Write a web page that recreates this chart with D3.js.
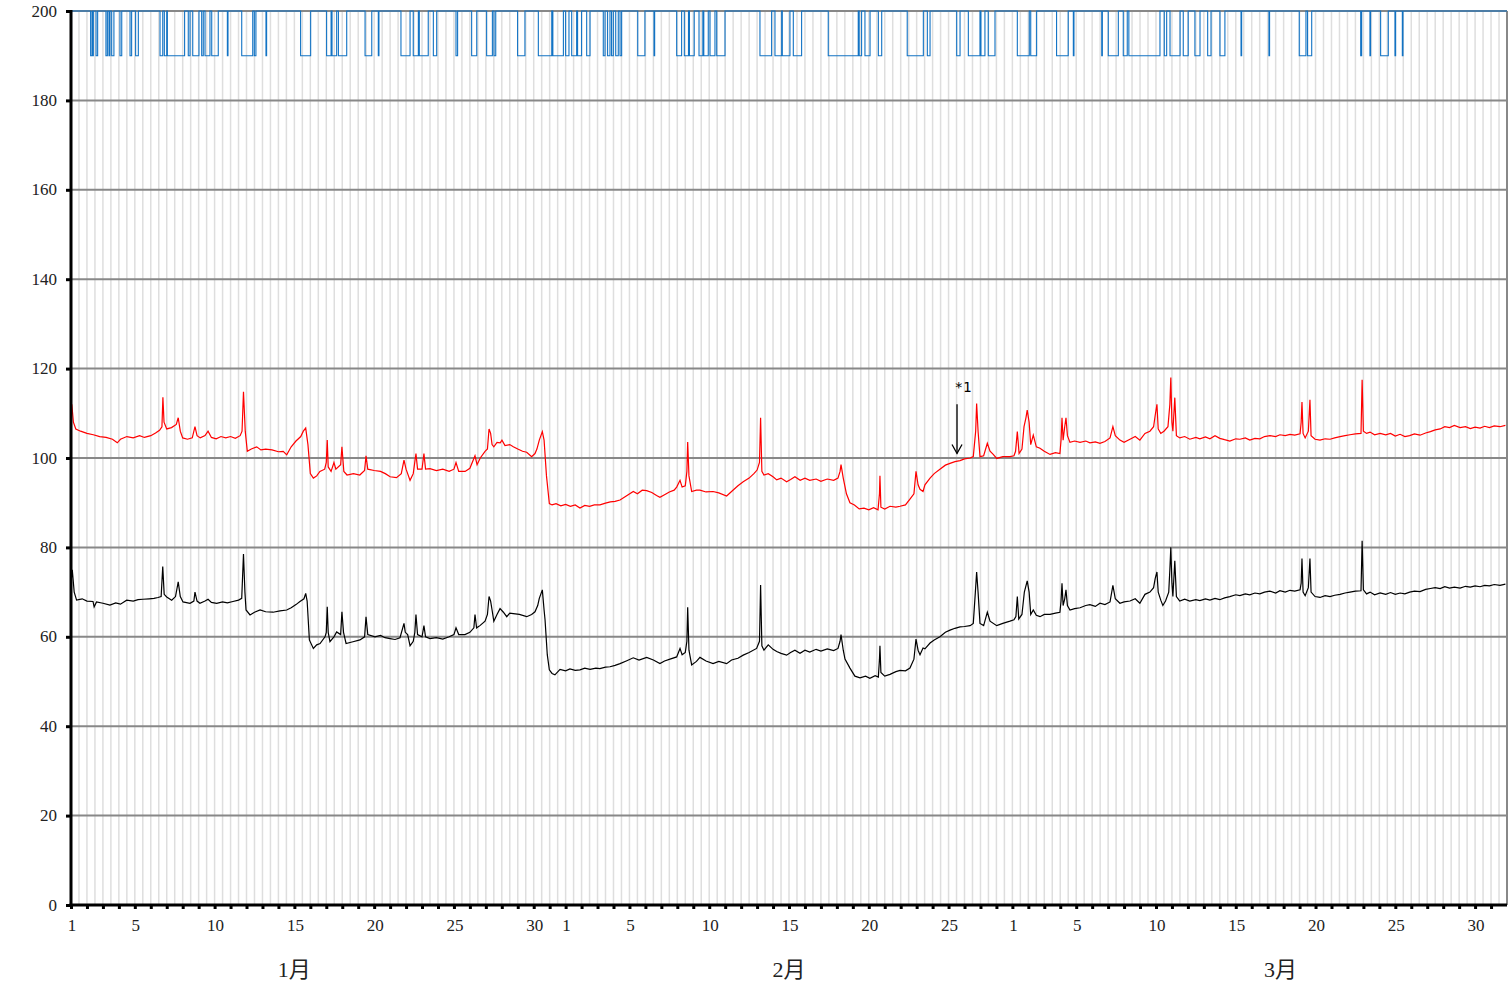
<!DOCTYPE html>
<html>
<head>
<meta charset="utf-8">
<script src="https://cdn.jsdelivr.net/npm/d3@7"></script>
<style>
  body { margin: 0; background: #fff; }
  svg { display: block; }
</style>
</head>
<body>
<script>

// day index 0 = Jan 1, 90 = end of Mar 31
const monthStarts = [0, 31, 59]
const monthNames = ["1月", "2月", "3月"]
const monthLabelAt = [14, 45, 75.8]
const dayLabels = [
  [1, 5, 10, 15, 20, 25, 30],
  [1, 5, 10, 15, 20, 25],
  [1, 5, 10, 15, 20, 25, 30]
]
const yTicks = [0, 20, 40, 60, 80, 100, 120, 140, 160, 180, 200]

// blue: spans (in days) where it sits at 190 instead of 200
const blueLow = [[0,0.03],[1.23,1.32],[1.36,1.40],[1.57,1.67],[2.19,2.28],[2.38,2.44],[2.55,2.69],[3.07,3.18],[3.70,3.80],[4.05,4.22],[5.58,5.75],[5.85,6.0],[6.04,7.12],[7.35,7.46],[7.63,8.02],[8.19,8.29],[8.40,8.71],[8.82,9.23],[9.80,9.84],[10.70,11.39],[11.49,11.59],[12.22,12.26],[14.39,15.02],[16.02,16.3],[16.36,16.65],[16.76,17.28],[18.43,18.85],[19.26,19.30],[20.68,21.25],[21.45,21.77],[21.83,22.39],[22.71,22.92],[24.13,24.23],[25.11,25.43],[26.05,26.41],[26.51,26.62],[27.99,28.45],[29.29,30.13],[30.2,30.86],[31.0,31.21],[31.38,31.69],[31.75,32.0],[32.32,32.53],[33.36,33.47],[33.63,33.78],[33.88,33.99],[34.14,34.30],[34.41,34.51],[35.52,35.97],[36.54,36.58],[37.96,38.27],[38.44,38.7],[38.76,39.06],[39.36,39.6],[39.66,39.94],[40.05,40.36],[40.47,40.99],[43.18,43.91],[44.12,44.54],[44.58,45.06],[45.27,45.79],[47.46,49.34],[49.4,49.55],[49.76,50.08],[50.60,50.81],[52.41,53.42],[53.67,53.84],[55.51,55.72],[56.24,56.97],[57.03,57.28],[57.49,57.91],[59.31,60.06],[60.15,60.52],[61.77,62.50],[62.82,62.86],[64.60,64.64],[65.01,65.64],[65.95,66.2],[66.3,68.25],[68.52,68.67],[68.88,69.51],[69.71,70.02],[70.44,70.76],[71.24,71.45],[72.01,72.32],[73.33,73.37],[75.08,75.12],[76.98,77.4],[77.5,77.76],[80.83,80.89],[81.41,81.45],[82.08,82.56],[82.98,83.02],[83.44,83.48]]

const redPts = [[0,108],[0.05,112],[0.15,108],[0.3,106.5],[0.6,106],[1.0,105.5],[1.4,105.2],[1.8,104.8],[2.2,104.6],[2.6,104.2],[2.9,103.4],[3.1,104.2],[3.5,104.8],[3.9,104.5],[4.3,105.0],[4.6,104.6],[5.0,105.0],[5.3,105.6],[5.55,106.2],[5.7,107],[5.76,113.6],[5.83,108],[6.0,106.5],[6.3,106.8],[6.6,107.5],[6.72,109],[6.85,106],[7.0,104.5],[7.3,104.2],[7.6,104.5],[7.77,107],[7.9,105],[8.1,104.5],[8.4,105],[8.59,106],[8.8,104.6],[9.1,104.3],[9.4,104.8],[9.7,104.5],[10.0,104.8],[10.3,104.4],[10.6,105],[10.72,106],[10.81,114.8],[10.92,106],[11.05,101.5],[11.3,102],[11.64,102.5],[11.9,101.8],[12.2,102],[12.6,101.8],[13.0,101.4],[13.3,101.5],[13.52,100.7],[13.8,102.5],[14.1,103.8],[14.4,104.8],[14.56,106],[14.71,106.7],[14.85,103],[15.0,96.5],[15.19,95.5],[15.4,96],[15.6,97],[15.9,97.5],[16.0,99],[16.06,104],[16.12,98],[16.3,97],[16.48,99],[16.6,97.5],[16.9,98.5],[16.98,102.5],[17.1,97],[17.3,96.2],[17.7,96.5],[18.1,96.2],[18.4,97.2],[18.49,100.5],[18.6,97.5],[19.0,97.2],[19.4,97],[19.7,96.5],[20.0,95.8],[20.4,95.6],[20.7,96.5],[20.87,99.5],[21.0,97.5],[21.25,95],[21.45,96.5],[21.62,101],[21.72,97.5],[22.0,97.5],[22.12,101],[22.22,97.5],[22.5,97.6],[22.9,97.2],[23.3,97.5],[23.7,97],[24.0,97.5],[24.13,99],[24.3,97],[24.7,97],[25.0,97.7],[25.32,100.5],[25.45,98.5],[25.65,100],[25.95,101.5],[26.1,102],[26.2,106.5],[26.3,105.5],[26.39,103],[26.5,102.5],[26.7,103.5],[26.9,103.4],[27.01,104],[27.2,102.8],[27.5,103],[27.72,102.5],[28.0,102],[28.3,101.5],[28.56,101.3],[28.87,100.3],[29.08,101],[29.2,102],[29.35,104],[29.54,105.9],[29.65,104],[29.8,96],[29.98,89.8],[30.15,89.5],[30.4,89.8],[30.7,89.3],[31.0,89.6],[31.3,89.2],[31.6,89.5],[31.9,88.8],[32.2,89.4],[32.5,89.2],[32.8,89.5],[33.15,89.5],[33.5,89.9],[33.8,90.2],[34.1,90.3],[34.41,90.6],[34.8,91.5],[35.24,92.5],[35.5,92],[35.8,92.8],[36.08,92.7],[36.4,92.3],[36.7,91.6],[36.91,91.2],[37.2,91.8],[37.5,92.4],[37.8,92.8],[37.96,93.5],[38.17,95],[38.3,93.5],[38.5,93.8],[38.6,97],[38.65,103.6],[38.73,96],[38.9,92.5],[39.2,92.8],[39.42,92.8],[39.8,92.4],[40.24,92.5],[40.6,92.2],[41.09,91.5],[41.4,92.5],[41.8,93.8],[42.13,94.7],[42.5,95.5],[42.8,96.5],[43.0,97.3],[43.15,99],[43.22,109],[43.3,97],[43.43,96.2],[43.7,96.5],[44.0,95.8],[44.23,95.1],[44.5,95.5],[44.85,94.7],[45.1,95.2],[45.37,95.8],[45.7,95],[46.0,95.5],[46.3,95],[46.7,95.3],[47.0,94.8],[47.4,95.3],[47.8,95],[48.07,95.5],[48.2,97],[48.26,98.5],[48.4,95.5],[48.6,92],[48.82,90],[49.1,89.5],[49.4,88.6],[49.7,88.8],[50.0,88.4],[50.3,88.9],[50.58,88.4],[50.67,92],[50.7,96],[50.76,89],[51.0,88.6],[51.33,89.2],[51.7,89],[51.96,89.2],[52.3,89.5],[52.58,90.8],[52.83,92],[52.96,97],[53.09,94],[53.21,93],[53.4,92.5],[53.52,94],[53.84,95.5],[54.1,96.5],[54.46,97.5],[54.8,98.4],[55.09,98.8],[55.4,99.2],[55.72,99.4],[56.0,99.8],[56.35,100],[56.55,100.3],[56.7,106],[56.76,112.2],[56.85,106],[56.97,100.3],[57.2,100.5],[57.43,103.3],[57.6,101.5],[57.8,100.8],[58.02,99.9],[58.4,100.3],[58.85,100.3],[59.1,100.5],[59.2,101.5],[59.31,105.9],[59.42,101],[59.6,102],[59.73,107],[59.85,109],[59.93,110.7],[60.05,108],[60.15,103],[60.31,105.1],[60.5,102.5],[60.73,102.2],[61.0,101.5],[61.36,100.8],[61.7,101.2],[61.98,101],[62.05,104],[62.11,109],[62.18,104],[62.28,107],[62.36,109],[62.45,105],[62.61,103.5],[62.9,103.8],[63.24,103.5],[63.6,103.8],[63.86,103.4],[64.2,103.6],[64.49,103.3],[64.8,103.7],[65.12,104.5],[65.3,107],[65.45,105],[65.74,104],[66.0,103.5],[66.37,104.2],[66.7,104.8],[66.99,104],[67.31,105.5],[67.62,106],[67.85,107],[67.95,109.5],[68.06,112],[68.14,106.5],[68.3,105.5],[68.5,106],[68.75,107],[68.87,112],[68.93,118],[69.0,108],[69.06,106],[69.18,113.5],[69.28,105],[69.49,104.5],[69.8,104.8],[70.12,104.2],[70.5,104.6],[70.75,104.3],[71.1,104.7],[71.38,104.3],[71.7,105],[72.0,104.4],[72.3,104.1],[72.63,103.8],[73.0,104.3],[73.26,104.2],[73.6,104.5],[73.88,104],[74.2,104.4],[74.51,104.3],[74.8,104.8],[75.14,105],[75.5,104.8],[75.77,105.2],[76.1,105],[76.4,105.3],[76.7,105.1],[77.03,105.4],[77.1,108],[77.15,112.5],[77.22,105.5],[77.35,104.5],[77.55,106],[77.65,113],[77.72,105],[77.97,104.2],[78.28,104],[78.6,104.3],[78.91,104.2],[79.2,104.5],[79.54,104.8],[79.85,105],[80.16,105.2],[80.5,105.4],[80.85,105.5],[80.92,117.5],[81.0,106],[81.2,105.5],[81.42,105.8],[81.7,105.2],[82.05,105.5],[82.4,105.2],[82.7,105.5],[83.0,104.9],[83.3,105.3],[83.6,104.8],[83.9,105],[84.2,105.4],[84.55,105.1],[84.9,105.6],[85.2,105.9],[85.5,106.3],[85.81,106.5],[86.1,107],[86.4,106.8],[86.7,107.3],[87.06,106.8],[87.4,107],[87.7,106.6],[88.0,106.9],[88.31,106.7],[88.6,107.1],[88.9,106.8],[89.2,107.2],[89.56,107],[89.9,107.3]]

const blackPts = [[0,72],[0.08,75],[0.2,70],[0.35,68.2],[0.7,68.5],[1.0,68],[1.38,67.9],[1.45,66.7],[1.6,67.8],[2.0,67.5],[2.44,67.1],[2.8,67.6],[3.1,67.3],[3.49,68.2],[3.9,68],[4.2,68.3],[4.51,68.4],[4.9,68.5],[5.2,68.6],[5.45,68.8],[5.65,69],[5.75,75.7],[5.84,69.5],[6.0,68.9],[6.31,68.2],[6.55,69],[6.72,72.3],[6.85,69],[7.02,67.8],[7.46,67.5],[7.7,68],[7.77,70],[7.9,68],[8.08,67.5],[8.4,68],[8.59,68.4],[8.8,67.7],[9.13,67.5],[9.5,67.8],[9.8,67.6],[10.15,67.9],[10.5,68.2],[10.7,68.6],[10.81,78.5],[10.9,70],[10.97,66],[11.22,64.9],[11.5,65.5],[11.85,66],[12.2,65.6],[12.66,65.5],[13.1,65.8],[13.52,66],[13.8,66.5],[14.1,67.2],[14.35,67.9],[14.6,68.5],[14.71,69.7],[14.8,68],[14.94,59.3],[15.19,57.4],[15.4,58.2],[15.61,58.5],[15.92,60],[16.0,61],[16.06,66.7],[16.12,61],[16.23,58.9],[16.48,60],[16.65,61.1],[16.9,60.5],[16.98,65.6],[17.08,61],[17.24,58.5],[17.67,58.9],[18.11,59.3],[18.4,60],[18.49,64.5],[18.6,60.5],[19.05,60],[19.4,60.3],[19.68,59.8],[20.0,59.6],[20.31,59.4],[20.62,59.8],[20.87,63],[20.95,61],[21.1,60.5],[21.25,58],[21.45,59],[21.55,61],[21.62,65],[21.72,60.5],[22.0,60],[22.12,62.5],[22.22,60],[22.5,59.6],[22.9,59.8],[23.3,59.5],[23.7,60],[24.0,60.5],[24.13,62],[24.3,60.5],[24.69,60.5],[25.0,61],[25.25,62],[25.32,65],[25.42,62],[25.63,62.5],[25.95,63.5],[26.1,65],[26.2,69],[26.3,68],[26.39,66],[26.5,63.5],[26.7,65],[26.89,66.3],[27.1,65.5],[27.31,64.5],[27.5,65.3],[27.72,65.2],[28.1,65],[28.56,64.5],[28.87,65],[29.08,65.6],[29.25,67],[29.35,68.6],[29.54,70.5],[29.65,66],[29.71,63.8],[29.85,56],[29.98,52.6],[30.15,51.8],[30.33,51.5],[30.65,52.7],[31.0,52.4],[31.27,52.8],[31.6,52.5],[31.9,52.6],[32.2,53],[32.53,52.7],[32.9,53],[33.15,52.9],[33.5,53.2],[33.78,53.3],[34.1,53.6],[34.41,54],[34.8,54.6],[35.24,55.3],[35.6,54.8],[36.08,55.4],[36.5,54.8],[36.91,54],[37.2,54.6],[37.54,55],[37.96,55.5],[38.17,57.4],[38.3,56],[38.5,56.5],[38.6,59],[38.65,66.6],[38.73,57],[38.9,53.7],[39.2,54.5],[39.42,55.4],[39.8,54.6],[40.24,54],[40.6,54.5],[41.09,54],[41.4,54.8],[41.8,55.2],[42.13,55.9],[42.5,56.5],[42.97,57.4],[43.15,59],[43.22,71.6],[43.3,58],[43.43,57],[43.7,58.2],[44.0,57.2],[44.23,56.7],[44.5,56.3],[44.85,55.9],[45.1,56.5],[45.37,57],[45.69,56.3],[46.0,57],[46.3,56.6],[46.7,57.2],[47.0,56.8],[47.4,57.3],[47.8,56.9],[48.07,57.4],[48.2,59],[48.26,60.5],[48.4,57],[48.51,55],[48.82,53],[49.13,51.2],[49.45,50.8],[49.8,51.2],[50.07,50.7],[50.4,51.3],[50.6,51],[50.67,55],[50.7,58],[50.76,52],[51.0,51.2],[51.33,51.6],[51.7,52.2],[51.96,52.5],[52.3,52.4],[52.58,53],[52.83,55],[52.96,59.5],[53.09,57],[53.21,56],[53.4,57.5],[53.52,57.3],[53.84,58.6],[54.1,59.3],[54.46,60],[54.8,61],[55.09,61.5],[55.4,61.9],[55.72,62.2],[56.0,62.3],[56.35,62.5],[56.55,63],[56.68,70],[56.76,74.5],[56.85,70],[56.97,63],[57.2,62.5],[57.43,65.5],[57.6,63.5],[58.02,62.5],[58.4,63],[58.85,63.5],[59.1,63.8],[59.22,64.5],[59.31,69],[59.4,64],[59.6,65],[59.75,70],[59.93,72.5],[60.05,70],[60.15,65],[60.31,66],[60.5,64.8],[60.73,64.5],[61.0,65],[61.36,65],[61.7,65.3],[61.98,65.5],[62.05,68],[62.11,72],[62.18,67],[62.28,68.5],[62.36,70.5],[62.45,67],[62.61,66],[62.9,66.3],[63.24,66.5],[63.6,67],[63.86,67.2],[64.2,66.8],[64.49,67.5],[64.8,67.2],[65.12,67.8],[65.3,71.5],[65.45,68.5],[65.74,67.5],[66.0,67.8],[66.37,68],[66.7,68.5],[66.99,67.5],[67.31,69.5],[67.62,70],[67.85,71],[67.95,73],[68.06,74.5],[68.14,70],[68.3,68.2],[68.43,67],[68.6,68],[68.8,70],[68.87,75],[68.93,80],[69.0,72],[69.06,69],[69.18,77],[69.28,69],[69.49,68],[69.8,68.4],[70.12,68],[70.5,68.3],[70.75,68.1],[71.1,68.5],[71.38,68.2],[71.7,68.6],[72.0,68.3],[72.3,68.7],[72.63,69],[73.0,69.4],[73.26,69.2],[73.6,69.6],[73.88,69.4],[74.2,69.8],[74.51,69.6],[74.8,70],[75.14,70.2],[75.5,69.8],[75.77,70.3],[76.1,70],[76.4,70.4],[76.7,70.2],[77.03,70.5],[77.1,72],[77.15,77.5],[77.22,70],[77.35,69.2],[77.55,71],[77.65,77.5],[77.72,70],[77.97,69],[78.28,68.8],[78.6,69.2],[78.91,69],[79.2,69.3],[79.54,69.5],[79.85,69.8],[80.16,70],[80.5,70.2],[80.85,70.3],[80.92,81.5],[81.0,70.5],[81.2,69.6],[81.42,70],[81.7,69.4],[82.05,69.8],[82.4,69.5],[82.7,69.9],[83.0,69.5],[83.3,69.8],[83.6,69.6],[83.9,70],[84.2,70.2],[84.55,70.1],[84.9,70.6],[85.2,70.8],[85.5,71],[85.81,70.8],[86.1,71.2],[86.4,70.9],[86.7,71.1],[87.06,70.9],[87.4,71.3],[87.7,71.1],[88.0,71.4],[88.31,71.2],[88.6,71.5],[88.9,71.4],[89.2,71.7],[89.56,71.5],[89.9,71.8]]

// annotation arrow "*1"
const noteDay = 55.53
const noteTop = 112
const noteBottom = 101
const noteText = "*1"

const w = 1511
const h = 988
const plotLeft = 71
const plotRight = 1507
const plotTop = 11
const plotBottom = 905
const serif = "'Liberation Serif', 'Times New Roman', Times, serif"

const xScale = d3.scaleLinear().domain([0, 90]).range([plotLeft, plotRight])
const yScale = d3.scaleLinear().domain([0, 200]).range([plotBottom, plotTop])

const svg = d3.select("body")
  .append("svg")
  .attr("width", w)
  .attr("height", h)

// light half-day grid
svg.append("g")
  .selectAll("line")
  .data(d3.range(0.5, 90, 0.5))
  .enter()
  .append("line")
  .attr("x1", d => xScale(d))
  .attr("x2", d => xScale(d))
  .attr("y1", plotTop)
  .attr("y2", plotBottom)
  .attr("stroke", "#dedede")
  .attr("stroke-width", 1.5)

svg.append("g")
  .selectAll("line")
  .data(yTicks.slice(1))
  .enter()
  .append("line")
  .attr("x1", plotLeft)
  .attr("x2", plotRight)
  .attr("y1", d => yScale(d))
  .attr("y2", d => yScale(d))
  .attr("stroke", "#888")
  .attr("stroke-width", 2)

svg.append("line")
  .attr("x1", plotRight).attr("x2", plotRight)
  .attr("y1", plotTop).attr("y2", plotBottom)
  .attr("stroke", "#888")
  .attr("stroke-width", 2)

// blue on/off series as step line
let bluePts = [[0, 190]]
blueLow.forEach(([s, e]) => {
  if (s > 0) bluePts.push([s, 190])
  bluePts.push([e, 200])
})
bluePts.push([90, 200])

const stepLine = d3.line()
  .x(d => xScale(d[0]))
  .y(d => yScale(d[1]))
  .curve(d3.curveStepAfter)

const line = d3.line()
  .x(d => xScale(d[0]))
  .y(d => yScale(d[1]))

svg.append("path")
  .datum(bluePts)
  .attr("d", stepLine)
  .attr("fill", "none")
  .attr("stroke", "#1273c4")
  .attr("stroke-width", 1.1)

svg.append("path")
  .datum(redPts)
  .attr("d", line)
  .attr("fill", "none")
  .attr("stroke", "#ff0000")
  .attr("stroke-width", 1.2)

svg.append("path")
  .datum(blackPts)
  .attr("d", line)
  .attr("fill", "none")
  .attr("stroke", "#000")
  .attr("stroke-width", 1.2)

// axes
const yAxis = d3.axisLeft(yScale).tickValues(yTicks).tickSize(5).tickFormat("")
const yg = svg.append("g").attr("transform", `translate(${plotLeft},0)`).call(yAxis)
yg.select(".domain").remove()
yg.selectAll(".tick line").attr("stroke", "#000").attr("stroke-width", 3)

svg.selectAll(".ylab")
  .data(yTicks)
  .enter()
  .append("text")
  .attr("x", 57)
  .attr("y", d => yScale(d))
  .attr("dy", "0.33em")
  .attr("text-anchor", "end")
  .style("font-family", serif)
  .style("font-size", "17px")
  .attr("fill", "#222")
  .text(d => d)

const xAxis = d3.axisBottom(xScale).tickValues(d3.range(0, 90, 1)).tickSize(4).tickFormat("")
const xg = svg.append("g").attr("transform", `translate(0,${plotBottom})`).call(xAxis)
xg.select(".domain").remove()
xg.selectAll(".tick line").attr("stroke", "#000").attr("stroke-width", 3)

svg.append("line")
  .attr("x1", plotLeft).attr("x2", plotLeft)
  .attr("y1", plotTop - 1).attr("y2", plotBottom + 1.5)
  .attr("stroke", "#000").attr("stroke-width", 3)
svg.append("line")
  .attr("x1", plotLeft - 1.5).attr("x2", plotRight)
  .attr("y1", plotBottom).attr("y2", plotBottom)
  .attr("stroke", "#000").attr("stroke-width", 3)

let dayLabelData = []
dayLabels.forEach((days, m) => {
  days.forEach(d => dayLabelData.push({ idx: monthStarts[m] + d - 1, label: d }))
})

svg.selectAll(".xlab")
  .data(dayLabelData)
  .enter()
  .append("text")
  .attr("x", d => xScale(d.idx) + 1)
  .attr("y", 931)
  .attr("text-anchor", "middle")
  .style("font-family", serif)
  .style("font-size", "17px")
  .attr("fill", "#222")
  .text(d => d.label)

svg.selectAll(".mlab")
  .data(monthNames)
  .enter()
  .append("text")
  .attr("x", (d, i) => xScale(monthLabelAt[i]))
  .attr("y", 977)
  .attr("text-anchor", "middle")
  .style("font-family", serif + ", 'Noto Sans CJK JP'")
  .style("font-size", "22px")
  .attr("fill", "#222")
  .text(d => d)

// note arrow
const nx = xScale(noteDay)
svg.append("line")
  .attr("x1", nx).attr("x2", nx)
  .attr("y1", yScale(noteTop)).attr("y2", yScale(noteBottom))
  .attr("stroke", "#000").attr("stroke-width", 1.3)
svg.append("path")
  .attr("d", `M${nx - 5},${yScale(noteBottom) - 9} L${nx},${yScale(noteBottom)} L${nx + 5},${yScale(noteBottom) - 9}`)
  .attr("fill", "none")
  .attr("stroke", "#000")
  .attr("stroke-width", 1.3)
svg.append("text")
  .attr("x", nx + 6)
  .attr("y", yScale(noteTop) - 12)
  .attr("text-anchor", "middle")
  .style("font-family", "'DejaVu Sans Mono', monospace")
  .style("font-size", "14px")
  .text(noteText)

</script>
</body>
</html>
